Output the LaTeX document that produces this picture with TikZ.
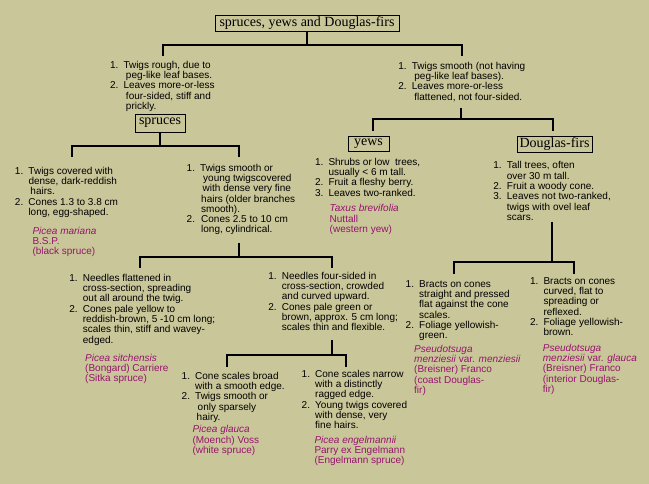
\documentclass[tikz,border=0pt]{standalone}
\usepackage{fontspec}
\setmainfont{Liberation Serif}
\newfontfamily\keysans{Liberation Sans}
\definecolor{keybg}{RGB}{201,198,153}
\definecolor{taxon}{RGB}{150,20,110}
\newcommand{\keyfont}{\keysans\fontsize{10}{10.1}\selectfont}
\newcommand{\keyin}{\hspace*{2.5pt}}
\begin{document}
\begin{tikzpicture}[x=1pt,y=-1pt,
  group/.style={draw,line width=.8pt,inner sep=0pt,font=\fontsize{14}{14}\selectfont},
  keytext/.style={anchor=north west,inner sep=0pt,font=\keyfont},
  taxontext/.style={keytext,text=taxon},
  branch/.style={line width=1.8pt}]
\useasboundingbox[fill=keybg] (0,0) rectangle (649,484);

% group boxes
\node[group,minimum width=184pt,minimum height=16pt] (title) at (307,23) {spruces, yews and Douglas-firs};
\node[group,minimum width=50pt,minimum height=18pt] (spruces) at (160,123) {spruces};
\node[group,minimum width=41pt,minimum height=15pt] (yews) at (368.5,144) {yews};
\node[group,minimum width=75pt,minimum height=16pt] (dfirs) at (554.5,144.5) {Douglas-firs};

% first split
\node[keytext] (rough) at (109.8,61) {\begin{tabular}{@{}p{13.5pt}@{}l@{}}
1. & Twigs rough, due to\\ & \keyin peg-like leaf bases.\\
2. & Leaves more-or-less\\ & \keyin four-sided, stiff and\\ & \keyin prickly.\end{tabular}};
\node[keytext] (smooth) at (398.2,62) {\begin{tabular}{@{}p{13.5pt}@{}l@{}}
1. & Twigs smooth (not having\\ & \keyin peg-like leaf bases).\\
2. & Leaves more-or-less\\ & \keyin flattened, not four-sided.\end{tabular}};

% spruces
\node[keytext] (hairy) at (14.8,167) {\begin{tabular}{@{}p{13.5pt}@{}l@{}}
1. & Twigs covered with\\ & dense, dark-reddish\\ & \hspace*{2pt}hairs.\\
2. & Cones 1.3 to 3.8 cm\\ & long, egg-shaped.\end{tabular}};
\node[taxontext] (mariana) at (32.3,227) {\begin{tabular}{@{}l@{}}
\textit{Picea mariana}\\ B.S.P.\\ (black spruce)\end{tabular}};
\node[keytext] (fine) at (186.5,164) {\begin{tabular}{@{}p{13.5pt}@{}l@{}}
1. & Twigs smooth or\\ & \hspace*{3pt}young twigscovered\\ & \hspace*{2.5pt}with dense very fine\\
 & \hspace*{1pt}hairs (older branches\\ & \hspace*{1pt}smooth).\\
2. & \hspace*{1pt}Cones 2.5 to 10 cm\\ & \hspace*{1pt}long, cylindrical.\end{tabular}};

\node[keytext] (flat) at (69.2,274) {\begin{tabular}{@{}p{13.5pt}@{}l@{}}
1. & Needles flattened in\\ & cross-section, spreading\\ & out all around the twig.\\
2. & Cones pale yellow to\\ & reddish-brown, 5 -10 cm long;\\ & scales thin, stiff and wavey-\\ & edged.\end{tabular}};
\node[taxontext] (sitka) at (85,354) {\begin{tabular}{@{}l@{}}
\textit{Picea sitchensis}\\ (Bongard) Carriere\\ (Sitka spruce)\end{tabular}};
\node[keytext] (square) at (268.2,272) {\begin{tabular}{@{}p{13.5pt}@{}l@{}}
1. & Needles four-sided in\\ & cross-section, crowded\\ & and curved upward.\\
2. & Cones pale green or\\ & brown, approx. 5 cm long;\\ & scales thin and flexible.\end{tabular}};

\node[keytext] (broad) at (181.5,372) {\begin{tabular}{@{}p{13.5pt}@{}l@{}}
1. & Cone scales broad\\ & with a smooth edge.\\
2. & Twigs smooth or\\ & \hspace*{2.5pt}only sparsely\\ & \hspace*{1.5pt}hairy.\end{tabular}};
\node[taxontext] (glauca) at (192.3,425.5) {\begin{tabular}{@{}l@{}}
\textit{Picea glauca}\\ (Moench) Voss\\ (white spruce)\end{tabular}};
\node[keytext] (narrow) at (301.5,370) {\begin{tabular}{@{}p{13.5pt}@{}l@{}}
1. & Cone scales narrow\\ & with a distinctly\\ & ragged edge.\\
2. & Young twigs covered\\ & with dense, very\\ & fine hairs.\end{tabular}};
\node[taxontext] (engel) at (314.3,436) {\begin{tabular}{@{}l@{}}
\textit{Picea engelmannii}\\ Parry ex Engelmann\\ (Engelmann spruce)\end{tabular}};

% yews and Douglas-firs
\node[keytext] (shrub) at (314.8,158) {\begin{tabular}{@{}p{13.5pt}@{}l@{}}
1. & Shrubs or low \ trees,\\ & usually < 6 m tall.\\
2. & Fruit a fleshy berry.\\
3. & Leaves two-ranked.\end{tabular}};
\node[taxontext] (taxus) at (329.5,204.5) {\begin{tabular}{@{}l@{}}
\textit{Taxus brevifolia}\\ Nuttall\\ (western yew)\end{tabular}};
\node[keytext] (tall) at (493.2,161.5) {\begin{tabular}{@{}p{13.5pt}@{}l@{}}
1. & Tall trees, often\\ & over 30 m tall.\\
2. & Fruit a woody cone.\\
3. & Leaves not two-ranked,\\ & twigs with ovel leaf\\ & scars.\end{tabular}};

\node[keytext] (straight) at (405.5,280) {\begin{tabular}{@{}p{13.5pt}@{}l@{}}
1. & Bracts on cones\\ & straight and pressed\\ & flat against the cone\\ & scales.\\
2. & Foliage yellowish-\\ & green.\end{tabular}};
\node[taxontext] (coast) at (414,345) {\begin{tabular}{@{}l@{}}
\textit{Pseudotsuga}\\ \textit{menziesii} var. \textit{menziesii}\\ (Breisner) Franco\\ (coast Douglas-\\ fir)\end{tabular}};
\node[keytext] (curved) at (529.8,277) {\begin{tabular}{@{}p{13.5pt}@{}l@{}}
1. & Bracts on cones\\ & curved, flat to\\ & spreading or\\ & reflexed.\\
2. & Foliage yellowish-\\ & brown.\end{tabular}};
\node[taxontext] (interior) at (542.7,344) {\begin{tabular}{@{}l@{}}
\textit{Pseudotsuga}\\ \textit{menziesii} var. \textit{glauca}\\ (Breisner) Franco\\ (interior Douglas-\\ fir)\end{tabular}};

% stem ends, junctions and drops of the forks
\coordinate (smoothEnd) at (461,108);
\coordinate (fineEnd) at (239,243);
\coordinate (squareEnd) at (332,340);
\coordinate (tallEnd) at (552,222);
\coordinate (j1) at (307,45);  \coordinate (d1a) at (163,56);  \coordinate (d1b) at (462,56);
\coordinate (j2) at (160,146); \coordinate (d2a) at (72,157);   \coordinate (d2b) at (239,157);
\coordinate (j3) at (461,119); \coordinate (d3a) at (373,131);  \coordinate (d3b) at (553,131);
\coordinate (j4) at (239,257); \coordinate (d4a) at (140,268);  \coordinate (d4b) at (332,268);
\coordinate (j5) at (332,355); \coordinate (d5a) at (227,367);  \coordinate (d5b) at (346,367);
\coordinate (j6) at (552,262); \coordinate (d6a) at (454,274);  \coordinate (d6b) at (574,274);

\foreach \s/\j/\a/\b in {title.south/j1/d1a/d1b, spruces.south/j2/d2a/d2b,
  smoothEnd/j3/d3a/d3b, fineEnd/j4/d4a/d4b, squareEnd/j5/d5a/d5b, tallEnd/j6/d6a/d6b}
\draw[branch] (\s) -- (\s |- \j) (\a) |- (\j) -| (\b);
\end{tikzpicture}
\end{document}
